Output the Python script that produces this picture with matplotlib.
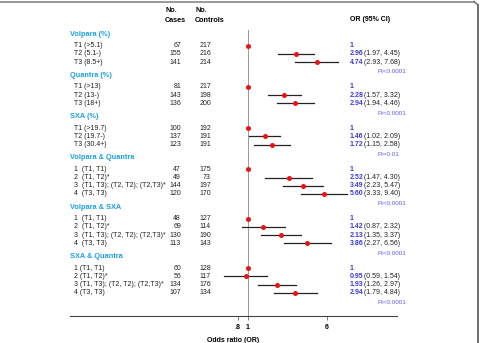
import matplotlib.pyplot as plt
from matplotlib.lines import Line2D
from matplotlib.transforms import blended_transform_factory

plt.rcParams['font.family'] = ['Liberation Sans', 'DejaVu Sans']

# ---- data ----
groups = ['Volpara (%)', 'Quantra (%)', 'SXA (%)',
          'Volpara & Quantra', 'Volpara & SXA', 'SXA & Quantra']
labels = [
    ['T1 (>5.1)', 'T2 (5.1-)', 'T3 (8.5+)'],
    ['T1 (>13)', 'T2 (13-)', 'T3 (18+)'],
    ['T1 (>19.7)', 'T2 (19.7-)', 'T3 (30.4+)'],
    ['1  (T1, T1)', '2  (T1, T2)*', '3  (T1, T3); (T2, T2); (T2,T3)*', '4  (T3, T3)'],
    ['1  (T1, T1)', '2  (T1, T2)*', '3  (T1, T3); (T2, T2); (T2,T3)*', '4  (T3, T3)'],
    ['1 (T1, T1)', '2 (T1, T2)*', '3 (T1, T3); (T2, T2); (T2,T3)*', '4 (T3, T3)'],
]
cases = [[67, 155, 141], [81, 143, 136], [100, 137, 123],
         [47, 49, 144, 120], [48, 69, 130, 113], [60, 56, 134, 107]]
controls = [[217, 216, 214], [217, 198, 200], [192, 191, 191],
            [175, 73, 197, 170], [127, 114, 190, 143], [128, 117, 176, 134]]
odds = [[1, 2.96, 4.74], [1, 2.28, 2.94], [1, 1.46, 1.72],
        [1, 2.52, 3.49, 5.60], [1, 1.42, 2.13, 3.86], [1, 0.95, 1.93, 2.94]]
lower = [[None, 1.97, 2.93], [None, 1.57, 1.94], [None, 1.02, 1.15],
         [None, 1.47, 2.23, 3.33], [None, 0.87, 1.35, 2.27], [None, 0.59, 1.26, 1.79]]
upper = [[None, 4.45, 7.68], [None, 3.32, 4.46], [None, 2.09, 2.58],
         [None, 4.30, 5.47, 9.40], [None, 2.32, 3.37, 6.56], [None, 1.54, 2.97, 4.84]]
ptrend = ['Pt<0.0001', 'Pt<0.0001', 'Pt=0.01', 'Pt<0.0001', 'Pt<0.0001', 'Pt<0.0001']
xticks = [0.8, 1, 6]
xticklabels = ['.8', '1', '6']

# ---- styling ----
W, H = 480, 343
HEAD_C = '#1ea0e0'
OR_C = '#3b3bd8'
PT_C = '#5c5cf0'
TXT_C = '#222222'
FS = 5.0

fig = plt.figure(figsize=(4.8, 3.43), dpi=100)
# axes spans x pixel 70..397, y pixel 30..316
ax = fig.add_axes([70 / W, 1 - 316 / H, 327 / W, 286 / H])
ax.set_xscale('log')
ax.set_xlim(0.01786, 29.3)
ax.set_ylim(34.35, -0.49)
for s in ['top', 'right', 'left']:
    ax.spines[s].set_visible(False)
ax.spines['bottom'].set_color('#444444')
ax.spines['bottom'].set_linewidth(0.8)
ax.set_yticks([])
ax.set_xticks(xticks)
ax.set_xticklabels(xticklabels, fontsize=FS, fontweight='bold')
ax.xaxis.set_minor_locator(plt.NullLocator())
ax.tick_params(axis='x', length=3, width=0.6, color='#666666', pad=3)
ax.set_xlabel('Odds ratio (OR)', fontsize=FS, fontweight='bold', labelpad=4)
ax.axvline(1, color='#999999', lw=0.7, zorder=1)

tr = blended_transform_factory(fig.transFigure, ax.transData)


def fx(px):
    return px / W


# headers
fig.text(fx(165), 1 - 11 / H, 'No.', fontsize=FS + 0.2, fontweight='bold', va='center')
fig.text(fx(165), 1 - 20 / H, 'Cases', fontsize=FS + 0.2, fontweight='bold', va='center')
fig.text(fx(195), 1 - 11 / H, 'No.', fontsize=FS + 0.2, fontweight='bold', va='center')
fig.text(fx(195), 1 - 20 / H, 'Controls', fontsize=FS + 0.2, fontweight='bold', va='center')
fig.text(fx(350), 1 - 19.5 / H, 'OR (95% CI)', fontsize=FS, fontweight='bold', va='center')

y = 0.0
for g in range(len(groups)):
    ax.text(fx(70), y, groups[g], transform=tr, fontsize=FS + 0.3, color=HEAD_C,
            fontweight='bold', va='center')
    ry = y + 1.42
    for i in range(len(labels[g])):
        yy = ry + i
        ax.text(fx(74), yy, labels[g][i], transform=tr, fontsize=FS, va='center', color=TXT_C)
        ax.text(fx(181), yy, str(cases[g][i]), transform=tr, fontsize=FS,
                va='center', ha='right', color=TXT_C)
        ax.text(fx(211), yy, str(controls[g][i]), transform=tr, fontsize=FS,
                va='center', ha='right', color=TXT_C)
        if lower[g][i] is None:
            ax.text(fx(350), yy, '1', transform=tr, fontsize=FS, color=OR_C,
                    fontweight='bold', va='center')
        else:
            ax.plot([lower[g][i], upper[g][i]], [yy, yy], color='#222222', lw=0.9, zorder=2)
            ax.text(fx(350), yy, '%.2f' % odds[g][i], transform=tr, fontsize=FS,
                    color=OR_C, fontweight='bold', va='center')
            ax.text(fx(364.5), yy, '(%.2f, %.2f)' % (lower[g][i], upper[g][i]),
                    transform=tr, fontsize=FS, va='center', color=TXT_C)
        ax.plot(odds[g][i], yy, 'o', color='#ee1111', ms=3.6, mec='none', zorder=3)
    last = ry + len(labels[g]) - 1
    ax.text(fx(377), last + 1.2, ptrend[g], transform=tr, fontsize=FS - 0.5,
            color=PT_C, va='center')
    y = last + 1.6

# frame: top and right border
fig.add_artist(Line2D([0, 474 / W], [1 - 1.5 / H, 1 - 1.5 / H], color='#888888', lw=1.2,
                      transform=fig.transFigure))
fig.add_artist(Line2D([478 / W, 478 / W], [0, 1 - 5 / H], color='#555555', lw=1.2,
                      transform=fig.transFigure))
fig.add_artist(Line2D([474 / W, 478 / W], [1 - 1.5 / H, 1 - 5 / H], color='#777777', lw=1.2,
                      transform=fig.transFigure))

fig.savefig('out.png', dpi=100)
